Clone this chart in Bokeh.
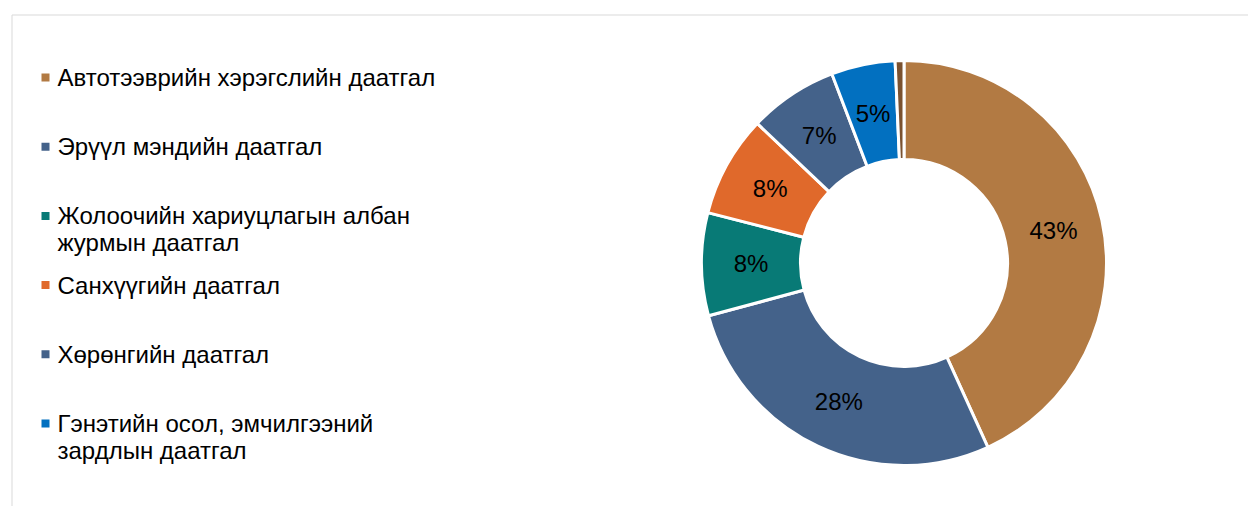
import numpy as np
from bokeh.plotting import figure
from bokeh.models import Range1d, ColumnDataSource
from bokeh.core.properties import value
from bokeh.embed import file_html
from bokeh.resources import INLINE

# ---- data ----
categories = [
    "Автотээврийн хэрэгслийн даатгал",
    "Эрүүл мэндийн даатгал",
    "Жолоочийн хариуцлагын албан\nжурмын даатгал",
    "Санхүүгийн даатгал",
    "Хөрөнгийн даатгал",
    "Гэнэтийн осол, эмчилгээний\nзардлын даатгал",
]
shares = [43.2, 27.6, 8.2, 8.1, 7.1, 5.1]
other_share = 0.7
colors = ["#B27A43", "#44628A", "#087A76", "#E0692B", "#44628A", "#0270C0"]
other_color = "#7B5230"

# ---- layout ----
W, H = 1248, 506
FONT = "Liberation Sans"
cx, cy = 903.5, -262.5          # image pixel coords, y = -image_y
r_in, r_out = 103.5, 202.5

p = figure(width=W, height=H, output_backend="svg", toolbar_location=None,
           x_range=Range1d(0, W), y_range=Range1d(-H, 0),
           min_border=0, min_border_left=0, min_border_right=0,
           min_border_top=0, min_border_bottom=0)
p.axis.visible = False
p.grid.visible = False
p.outline_line_color = None
p.background_fill_color = "white"
p.border_fill_color = "white"

# chart-area border (partially visible)
p.line(x=[11.5, 11.5, W], y=[-H, -14.5, -14.5], line_color="#D9D9D9", line_width=1)

# ---- donut ----
vals = np.array(shares + [other_share], dtype=float)
fr = np.concatenate([[0], np.cumsum(vals)]) / vals.sum() * 2 * np.pi
start = np.pi / 2 - fr[:-1]
end = np.pi / 2 - fr[1:]
src = ColumnDataSource(dict(x=[cx] * len(vals), y=[cy] * len(vals),
                            start=start, end=end, color=colors + [other_color]))
p.annular_wedge(x="x", y="y", inner_radius=r_in, outer_radius=r_out,
                start_angle="start", end_angle="end", direction="clock",
                fill_color="color", line_color="white", line_width=3, source=src)

mid = (fr[:-1] + fr[1:])[:len(shares)] / 2
r_mid = (r_in + r_out) / 2
lab = ColumnDataSource(dict(x=cx + r_mid * np.sin(mid), y=cy + r_mid * np.cos(mid),
                            t=[f"{round(s)}%" for s in shares]))
p.text(x="x", y="y", text="t", source=lab, text_align="center", text_baseline="middle",
       text_font=value(FONT), text_font_size="24px", text_color="black")

# ---- legend ----
lx_mark, lx_text = 45, 57
y0, step, line_h = 77, 69.2, 27
mx, my, mc = [], [], []
tx, ty, tt = [], [], []
for i, (name, c) in enumerate(zip(categories, colors)):
    yy = y0 + i * step
    mx.append(lx_mark); my.append(-yy); mc.append(c)
    for j, ln in enumerate(name.split("\n")):
        tx.append(lx_text); ty.append(-(yy + j * line_h)); tt.append(ln)
p.scatter(x=mx, y=my, marker="square", size=8, fill_color=mc, line_color=None)
p.text(x=tx, y=ty, text=tt, text_align="left", text_baseline="middle",
       text_font=value(FONT), text_font_size="24px", text_color="black")

open("out.html", "w").write(file_html(p, INLINE))
